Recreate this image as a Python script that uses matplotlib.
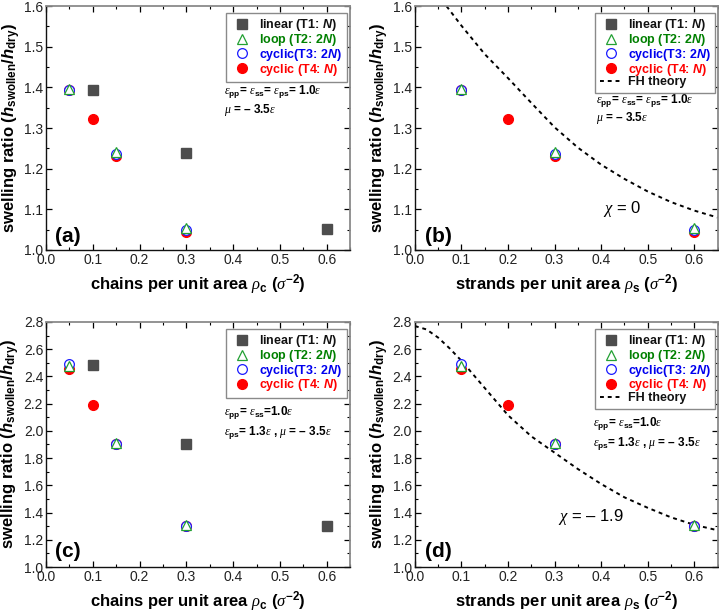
import numpy as np
import matplotlib
matplotlib.use("Agg")
import matplotlib.pyplot as plt
from matplotlib.lines import Line2D
from matplotlib.ticker import MultipleLocator

plt.rcParams["font.family"] = ["Liberation Sans", "DejaVu Sans"]
plt.rcParams["mathtext.fontset"] = "custom"
plt.rcParams["mathtext.rm"] = "Liberation Sans:bold"
plt.rcParams["mathtext.it"] = "Liberation Sans:italic:bold"
plt.rcParams["mathtext.bf"] = "Liberation Sans:bold"
plt.rcParams["mathtext.sf"] = "Liberation Serif:italic"

# ---- data ----
# top row: eps_ps = 1.0
a_linear_x = [0.1, 0.3, 0.6]
a_linear_y = [1.393, 1.238, 1.051]
a_loop_x = [0.05, 0.15, 0.3]
a_loop_y = [1.396, 1.240, 1.053]
a_cyc2_x = [0.05, 0.15, 0.3]
a_cyc2_y = [1.393, 1.237, 1.050]
a_cyc1_x = [0.05, 0.1, 0.15, 0.3]
a_cyc1_y = [1.394, 1.322, 1.232, 1.045]

# strands per area (panels b, d)
b_loop_x = [0.1, 0.3, 0.6]
b_cyc2_x = [0.1, 0.3, 0.6]
b_cyc1_x = [0.1, 0.2, 0.3, 0.6]

b_fh_x = [0.068, 0.1, 0.15, 0.2, 0.25, 0.3, 0.35, 0.4, 0.45, 0.5, 0.55, 0.6, 0.65]
b_fh_y = [1.600, 1.552, 1.482, 1.423, 1.362, 1.302, 1.252, 1.210, 1.175, 1.144, 1.118, 1.097, 1.080]

# bottom row: eps_ps = 1.3
c_linear_x = [0.1, 0.3, 0.6]
c_linear_y = [2.485, 1.905, 1.302]
c_loop_x = [0.05, 0.15, 0.3]
c_loop_y = [2.480, 1.910, 1.310]
c_cyc2_x = [0.05, 0.15, 0.3]
c_cyc2_y = [2.490, 1.905, 1.305]
c_cyc1_x = [0.05, 0.1, 0.15, 0.3]
c_cyc1_y = [2.455, 2.190, 1.900, 1.300]

d_fh_x = [0.0, 0.025, 0.05, 0.075, 0.1, 0.125, 0.15, 0.2, 0.25, 0.3, 0.35, 0.4, 0.45, 0.5, 0.55, 0.6, 0.65]
d_fh_y = [2.770, 2.745, 2.685, 2.605, 2.515, 2.415, 2.315, 2.115, 1.960, 1.840, 1.720, 1.610, 1.512, 1.435, 1.365, 1.310, 1.270]

legend_labels = ["linear (T1: $N$)", "loop (T2: 2$N$)", "cyclic(T3: 2$N$)", "cyclic (T4: $N$)"]
legend_colors = ["#111111", "#008000", "#0000ee", "#ff0000"]

GRAY = "#4d4d4d"
GREEN = "#22a033"
BLUE = "#1a1aff"
RED = "#ff0000"
DASH = (0, (2.0, 2.0))

ylab = "swelling ratio ($h_{\\mathrm{swollen}}$/$h_{\\mathrm{dry}}$)"
xlab_c = "chains per unit area $\\mathsf{\\rho}_{\\mathrm{c}}$ ($\\mathsf{\\sigma}^{\\mathrm{-2}}$)"
xlab_s = "strands per unit area $\\mathsf{\\rho}_{\\mathrm{s}}$ ($\\mathsf{\\sigma}^{\\mathrm{-2}}$)"
eps = "$\\mathsf{\\varepsilon}$"


def style_axes(ax, ylim, ymajor, yminor):
    ax.set_xlim(0, 0.65)
    ax.set_ylim(*ylim)
    ax.xaxis.set_major_locator(MultipleLocator(0.1))
    ax.xaxis.set_minor_locator(MultipleLocator(0.05))
    ax.yaxis.set_major_locator(MultipleLocator(ymajor))
    ax.yaxis.set_minor_locator(MultipleLocator(yminor))
    ax.xaxis.set_major_formatter(matplotlib.ticker.FormatStrFormatter("%.1f"))
    ax.yaxis.set_major_formatter(matplotlib.ticker.FormatStrFormatter("%.1f"))
    ax.tick_params(which="both", direction="in", top=True, right=True, labelsize=10,
                   labelcolor="#222222", pad=2)
    ax.tick_params(which="major", length=4, width=0.9)
    ax.tick_params(which="minor", length=2.5, width=0.8)
    for s in ["top", "right"]:
        ax.spines[s].set_color("#8a8a8a")
        ax.spines[s].set_linewidth(1.3)
    for s in ["left", "bottom"]:
        ax.spines[s].set_color("#111111")
        ax.spines[s].set_linewidth(1.0)
    ax.set_ylabel(ylab, fontsize=12, fontweight="bold", labelpad=1)


def draw_points(ax, lin, loop, cyc2, cyc1):
    if lin is not None:
        ax.plot(lin[0], lin[1], "s", color=GRAY, ms=6.5, ls="none", zorder=2)
    ax.plot(cyc1[0], cyc1[1], "o", color=RED, ms=7, ls="none", zorder=3)
    ax.plot(cyc2[0], cyc2[1], "o", mfc="white", mec=BLUE, mew=0.9, ms=7, ls="none", zorder=4)
    ax.plot(loop[0], loop[1], "^", mfc="white", mec=GREEN, mew=0.9, ms=7.5, ls="none", zorder=5)


def add_legend(ax, with_fh, anchor):
    handles = [
        Line2D([], [], marker="s", color=GRAY, ls="none", ms=6.5),
        Line2D([], [], marker="^", mfc="white", mec=GREEN, mew=0.9, ls="none", ms=7.5),
        Line2D([], [], marker="o", mfc="white", mec=BLUE, mew=0.9, ls="none", ms=7),
        Line2D([], [], marker="o", color=RED, ls="none", ms=7),
    ]
    labels = list(legend_labels)
    colors = list(legend_colors)
    if with_fh:
        handles.append(Line2D([], [], color="black", ls=DASH, lw=1.4))
        labels.append("FH theory")
        colors.append("#111111")
    leg = ax.legend(handles, labels, loc="upper right", bbox_to_anchor=anchor,
                    prop={"weight": "bold", "size": 9},
                    labelcolor=colors, fancybox=False, edgecolor="#8a8a8a",
                    handlelength=1.8, handletextpad=0.5, labelspacing=-0.1,
                    borderpad=0.35, borderaxespad=0.0, framealpha=1)
    leg.get_frame().set_linewidth(1.0)


fig = plt.figure(figsize=(7.19, 6.15), dpi=100)
ax_a = fig.add_axes([0.064, 0.5935, 0.423, 0.3965])
ax_b = fig.add_axes([0.577, 0.5935, 0.421, 0.3965])
ax_c = fig.add_axes([0.064, 0.078, 0.423, 0.3985])
ax_d = fig.add_axes([0.577, 0.078, 0.421, 0.3985])

XL = dict(fontsize=12, fontweight="bold", labelpad=4)
TX = dict(fontsize=8.5, fontweight="bold", va="center")

# (a)
style_axes(ax_a, (1.0, 1.6), 0.1, 0.05)
draw_points(ax_a, (a_linear_x, a_linear_y), (a_loop_x, a_loop_y),
            (a_cyc2_x, a_cyc2_y), (a_cyc1_x, a_cyc1_y))
add_legend(ax_a, False, (0.988, 0.972))
ax_a.set_xlabel(xlab_c, **XL)
ax_a.text(0.585, 0.652, eps + "$_{\\mathrm{pp}}$= " + eps + "$_{\\mathrm{ss}}$= " + eps
          + "$_{\\mathrm{ps}}$= 1.0" + eps, transform=ax_a.transAxes, **TX)
ax_a.text(0.585, 0.574, "$\\mathsf{\\mu}$ = – 3.5" + eps, transform=ax_a.transAxes, **TX)
ax_a.text(0.03, 0.055, "(a)", transform=ax_a.transAxes, fontsize=15, fontweight="bold",
          va="center")

# (b)
style_axes(ax_b, (1.0, 1.6), 0.1, 0.05)
draw_points(ax_b, None, (b_loop_x, a_loop_y), (b_cyc2_x, a_cyc2_y), (b_cyc1_x, a_cyc1_y))
ax_b.plot(b_fh_x, b_fh_y, color="black", ls=DASH, lw=1.4, zorder=1)
add_legend(ax_b, True, (0.993, 0.972))
ax_b.set_xlabel(xlab_s, **XL)
ax_b.text(0.60, 0.615, eps + "$_{\\mathrm{pp}}$= " + eps + "$_{\\mathrm{ss}}$= " + eps
          + "$_{\\mathrm{ps}}$= 1.0" + eps, transform=ax_b.transAxes, **TX)
ax_b.text(0.60, 0.54, "$\\mathsf{\\mu}$ = – 3.5" + eps, transform=ax_b.transAxes, **TX)
ax_b.text(0.405, 1.1, "$\\mathsf{\\chi}$ = 0", fontsize=12, va="center")
ax_b.text(0.033, 0.055, "(b)", transform=ax_b.transAxes, fontsize=15, fontweight="bold",
          va="center")

# (c)
style_axes(ax_c, (1.0, 2.8), 0.2, 0.1)
draw_points(ax_c, (c_linear_x, c_linear_y), (c_loop_x, c_loop_y),
            (c_cyc2_x, c_cyc2_y), (c_cyc1_x, c_cyc1_y))
add_legend(ax_c, False, (0.988, 0.972))
ax_c.set_xlabel(xlab_c, **XL)
ax_c.text(0.585, 0.63, eps + "$_{\\mathrm{pp}}$= " + eps + "$_{\\mathrm{ss}}$=1.0" + eps,
          transform=ax_c.transAxes, **TX)
ax_c.text(0.585, 0.55, eps + "$_{\\mathrm{ps}}$= 1.3" + eps + " , $\\mathsf{\\mu}$ = – 3.5" + eps,
          transform=ax_c.transAxes, **TX)
ax_c.text(0.03, 0.065, "(c)", transform=ax_c.transAxes, fontsize=15, fontweight="bold",
          va="center")

# (d)
style_axes(ax_d, (1.0, 2.8), 0.2, 0.1)
draw_points(ax_d, None, (b_loop_x, c_loop_y), (b_cyc2_x, c_cyc2_y), (b_cyc1_x, c_cyc1_y))
ax_d.plot(d_fh_x, d_fh_y, color="black", ls=DASH, lw=1.4, zorder=1)
add_legend(ax_d, True, (0.993, 0.972))
ax_d.set_xlabel(xlab_s, **XL)
ax_d.text(0.587, 0.585, eps + "$_{\\mathrm{pp}}$= " + eps + "$_{\\mathrm{ss}}$=1.0" + eps,
          transform=ax_d.transAxes, **TX)
ax_d.text(0.587, 0.505, eps + "$_{\\mathrm{ps}}$= 1.3" + eps + " , $\\mathsf{\\mu}$ = – 3.5" + eps,
          transform=ax_d.transAxes, **TX)
ax_d.text(0.307, 1.37, "$\\mathsf{\\chi}$ = – 1.9", fontsize=12, va="center")
ax_d.text(0.033, 0.065, "(d)", transform=ax_d.transAxes, fontsize=15, fontweight="bold",
          va="center")

fig.savefig("out.png", dpi=100)
